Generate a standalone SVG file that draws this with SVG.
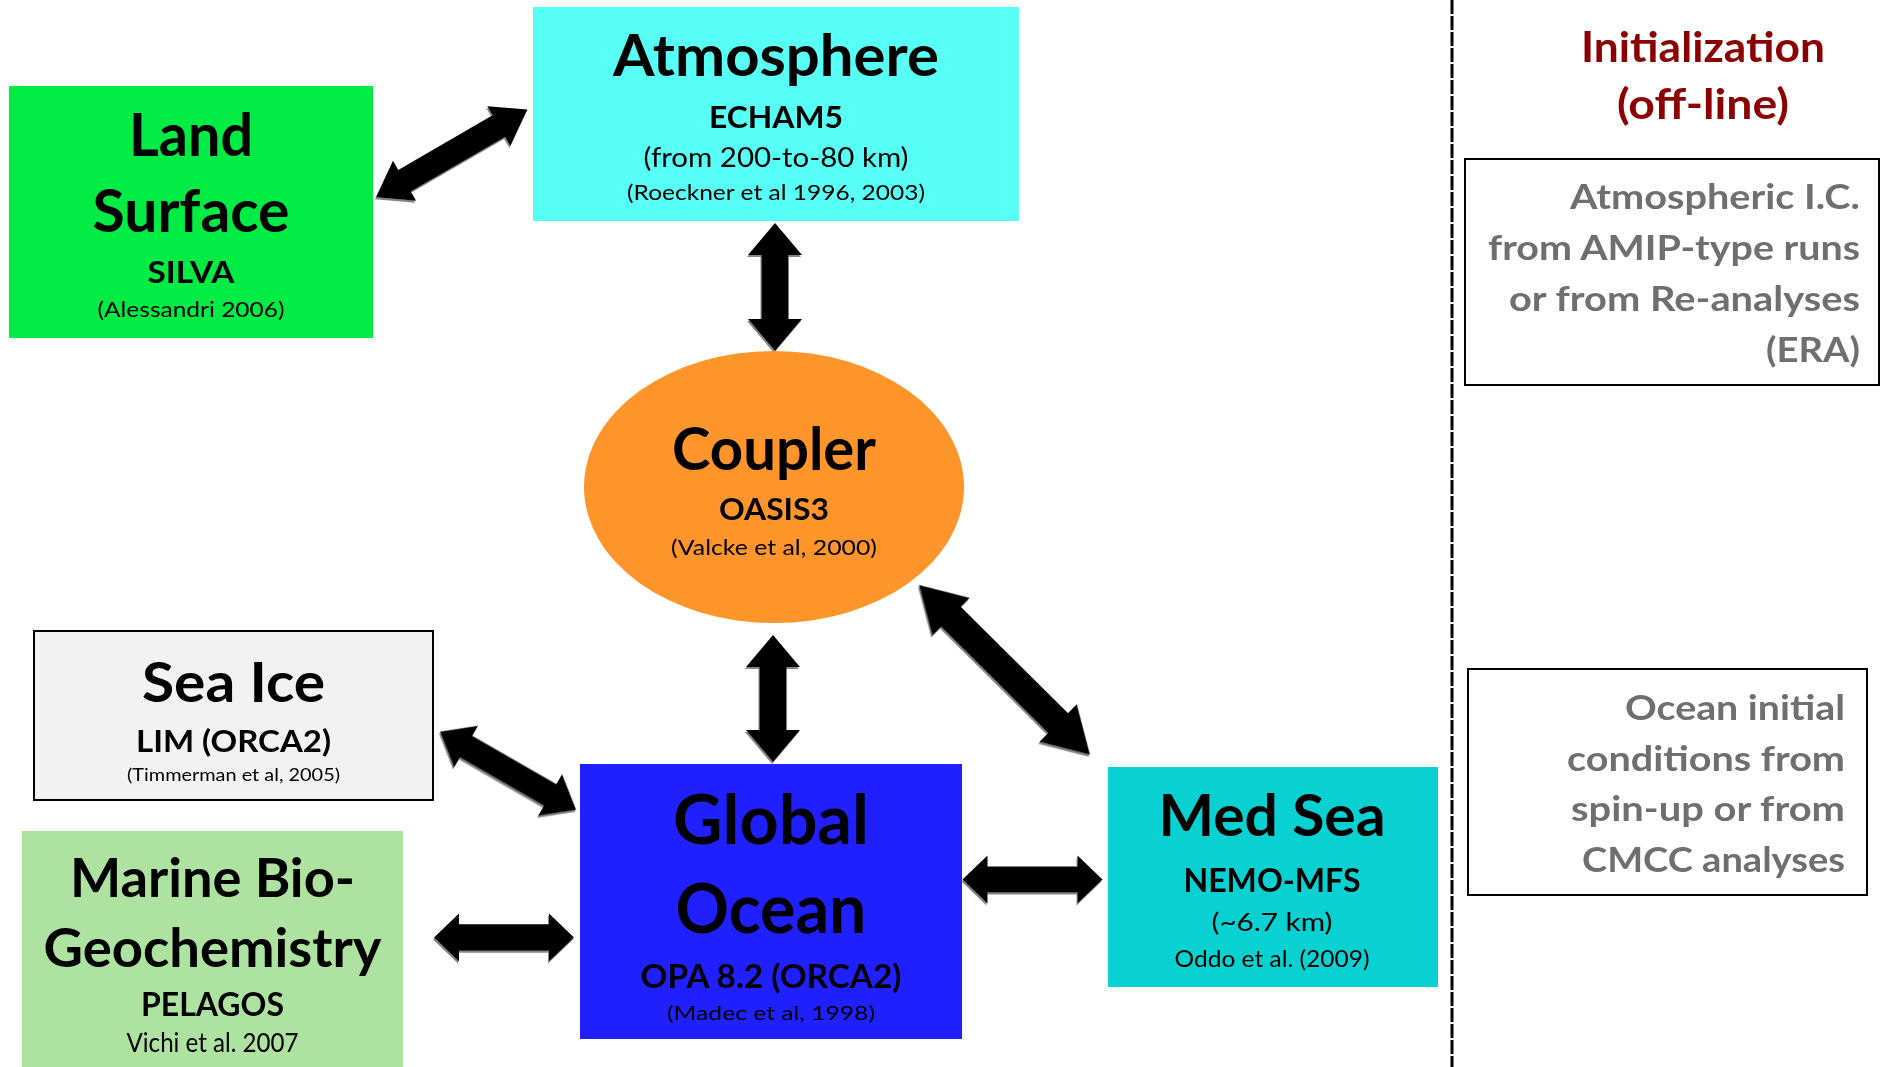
<svg xmlns="http://www.w3.org/2000/svg" width="1881" height="1067" viewBox="0 0 1881 1067">
<defs>
<style>
text{font-family:Lato,"Open Sans","Liberation Sans",sans-serif;fill:#000;text-anchor:middle}
.b{font-weight:bold}
.r{font-weight:normal}
.gray{fill:#6F6F6F;font-weight:bold;text-anchor:end}
.red{fill:#8B0000;font-weight:bold}
.arrow{fill:#000}
.box{stroke:#000;stroke-width:2}
</style>
<filter id="sh" x="-10%" y="-10%" width="120%" height="120%">
<feDropShadow dx="-1" dy="2" stdDeviation="0.7" flood-color="#777" flood-opacity="0.9"/>
</filter>
</defs>
<rect width="1881" height="1067" fill="#fff"/>

<g id="divider">
<line x1="1452" y1="0" x2="1452" y2="1067" stroke="#000" stroke-width="3" stroke-dasharray="14 2"/>
</g>

<g id="connectors" filter="url(#sh)">
<path class="arrow" transform="translate(376,197.3) rotate(-30.1)" d="M0,0 L33,-23 L33,-12.5 L142,-12.5 L142,-23 L175,0 L142,23 L142,12.5 L33,12.5 L33,23 Z"/>
<path class="arrow" transform="translate(775,223) rotate(90)" d="M0,0 L32,-27 L32,-13.5 L96,-13.5 L96,-27 L128,0 L96,27 L96,13.5 L32,13.5 L32,27 Z"/>
<path class="arrow" transform="translate(773,635) rotate(90)" d="M0,0 L32,-27 L32,-13.5 L95,-13.5 L95,-27 L127,0 L95,27 L95,13.5 L32,13.5 L32,27 Z"/>
<path class="arrow" transform="translate(440,731.7) rotate(29.9)" d="M0,0 L30,-24 L30,-12.6 L127,-12.6 L127,-24 L157,0 L127,24 L127,12.6 L30,12.6 L30,24 Z"/>
<path class="arrow" transform="translate(434,937.5)" d="M0,0 L25,-24 L25,-13.2 L115,-13.2 L115,-24 L140,0 L115,24 L115,13.2 L25,13.2 L25,24 Z"/>
<path class="arrow" transform="translate(962.5,879.5)" d="M0,0 L25,-24 L25,-13 L115,-13 L115,-24 L140,0 L115,24 L115,13 L25,13 L25,24 Z"/>
<path class="arrow" transform="translate(919,585) rotate(44.8)" d="M0,0 L45,-26.5 L45,-14 L196,-14 L196,-26.5 L241,0 L196,26.5 L196,14 L45,14 L45,26.5 Z"/>
</g>

<g id="land">
<rect x="9" y="86" width="364" height="252" fill="#00EB44"/>
<text class="b" x="191" y="156" font-size="60" textLength="124" lengthAdjust="spacingAndGlyphs">Land</text>
<text class="b" x="191" y="232" font-size="60" textLength="197" lengthAdjust="spacingAndGlyphs">Surface</text>
<text class="b" x="191" y="283" font-size="30" textLength="87" lengthAdjust="spacingAndGlyphs">SILVA</text>
<text class="r" x="191" y="317" font-size="22" textLength="187" lengthAdjust="spacingAndGlyphs">(Alessandri 2006)</text>
</g>

<g id="atmosphere">
<rect x="533" y="7" width="486" height="214" fill="#57FFF5"/>
<text class="b" x="776" y="76" font-size="58" textLength="326" lengthAdjust="spacingAndGlyphs">Atmosphere</text>
<text class="b" x="776" y="128" font-size="30" textLength="134" lengthAdjust="spacingAndGlyphs">ECHAM5</text>
<text class="r" x="776" y="167" font-size="27" textLength="265" lengthAdjust="spacingAndGlyphs">(from 200-to-80 km)</text>
<text class="r" x="776" y="200" font-size="21" textLength="298" lengthAdjust="spacingAndGlyphs">(Roeckner et al 1996, 2003)</text>
</g>

<g id="coupler">
<ellipse cx="774" cy="487" rx="190" ry="136" fill="#FF952B"/>
<text class="b" x="774" y="470" font-size="60" textLength="204" lengthAdjust="spacingAndGlyphs">Coupler</text>
<text class="b" x="774" y="520" font-size="30" textLength="110" lengthAdjust="spacingAndGlyphs">OASIS3</text>
<text class="r" x="774" y="555" font-size="22" textLength="206" lengthAdjust="spacingAndGlyphs">(Valcke et al, 2000)</text>
</g>

<g id="seaice">
<rect class="box" x="34" y="631" width="399" height="169" fill="#F2F2F2"/>
<text class="b" x="233.5" y="702" font-size="56" textLength="183" lengthAdjust="spacingAndGlyphs">Sea Ice</text>
<text class="b" x="233.5" y="752" font-size="30.5" textLength="195" lengthAdjust="spacingAndGlyphs">LIM (ORCA2)</text>
<text class="r" x="233.5" y="781" font-size="17" textLength="213" lengthAdjust="spacingAndGlyphs">(Timmerman et al, 2005)</text>
</g>

<g id="marine">
<rect x="22" y="831" width="381" height="236" fill="#AEE2A0"/>
<text class="b" x="212.5" y="897" font-size="54" textLength="285" lengthAdjust="spacingAndGlyphs">Marine Bio-</text>
<text class="b" x="212.5" y="967" font-size="54" textLength="338" lengthAdjust="spacingAndGlyphs">Geochemistry</text>
<text class="b" x="212.5" y="1016" font-size="32" textLength="143" lengthAdjust="spacingAndGlyphs">PELAGOS</text>
<text class="r" x="212.5" y="1052" font-size="26.5" textLength="172" lengthAdjust="spacingAndGlyphs">Vichi et al. 2007</text>
</g>

<g id="globalocean">
<rect x="580" y="764" width="382" height="275" fill="#2020FF"/>
<text class="b" x="771" y="844" font-size="68" textLength="196" lengthAdjust="spacingAndGlyphs">Global</text>
<text class="b" x="771" y="933" font-size="68" textLength="191" lengthAdjust="spacingAndGlyphs">Ocean</text>
<text class="b" x="771" y="988" font-size="32" textLength="261" lengthAdjust="spacingAndGlyphs">OPA 8.2 (ORCA2)</text>
<text class="r" x="771" y="1020" font-size="20" textLength="208" lengthAdjust="spacingAndGlyphs">(Madec et al, 1998)</text>
</g>

<g id="medsea">
<rect x="1108" y="767" width="330" height="220" fill="#0AD1D1"/>
<text class="b" x="1272" y="836" font-size="58" textLength="227" lengthAdjust="spacingAndGlyphs">Med Sea</text>
<text class="b" x="1272" y="892" font-size="32" textLength="177" lengthAdjust="spacingAndGlyphs">NEMO-MFS</text>
<text class="r" x="1272" y="931" font-size="25" textLength="121" lengthAdjust="spacingAndGlyphs">(~6.7 km)</text>
<text class="r" x="1272" y="967" font-size="23" textLength="195" lengthAdjust="spacingAndGlyphs">Oddo et al. (2009)</text>
</g>

<g id="init-title">
<text class="red" x="1703" y="62" font-size="42" textLength="244" lengthAdjust="spacingAndGlyphs">Initialization</text>
<text class="red" x="1703" y="119" font-size="42" textLength="172" lengthAdjust="spacingAndGlyphs">(off-line)</text>
</g>

<g id="atm-ic">
<rect class="box" x="1465" y="159" width="414" height="226" fill="#fff"/>
<text class="gray" x="1860" y="209" font-size="34" textLength="290" lengthAdjust="spacingAndGlyphs">Atmospheric I.C.</text>
<text class="gray" x="1860" y="260" font-size="34" textLength="372" lengthAdjust="spacingAndGlyphs">from AMIP-type runs</text>
<text class="gray" x="1860" y="311" font-size="34" textLength="351" lengthAdjust="spacingAndGlyphs">or from Re-analyses</text>
<text class="gray" x="1860" y="362" font-size="34" textLength="94" lengthAdjust="spacingAndGlyphs">(ERA)</text>
</g>

<g id="ocean-ic">
<rect class="box" x="1468" y="669" width="399" height="226" fill="#fff"/>
<text class="gray" x="1845" y="720" font-size="34" textLength="220" lengthAdjust="spacingAndGlyphs">Ocean initial</text>
<text class="gray" x="1845" y="771" font-size="34" textLength="278" lengthAdjust="spacingAndGlyphs">conditions from</text>
<text class="gray" x="1845" y="821" font-size="34" textLength="274" lengthAdjust="spacingAndGlyphs">spin-up or from</text>
<text class="gray" x="1845" y="872" font-size="34" textLength="263" lengthAdjust="spacingAndGlyphs">CMCC analyses</text>
</g>
</svg>
